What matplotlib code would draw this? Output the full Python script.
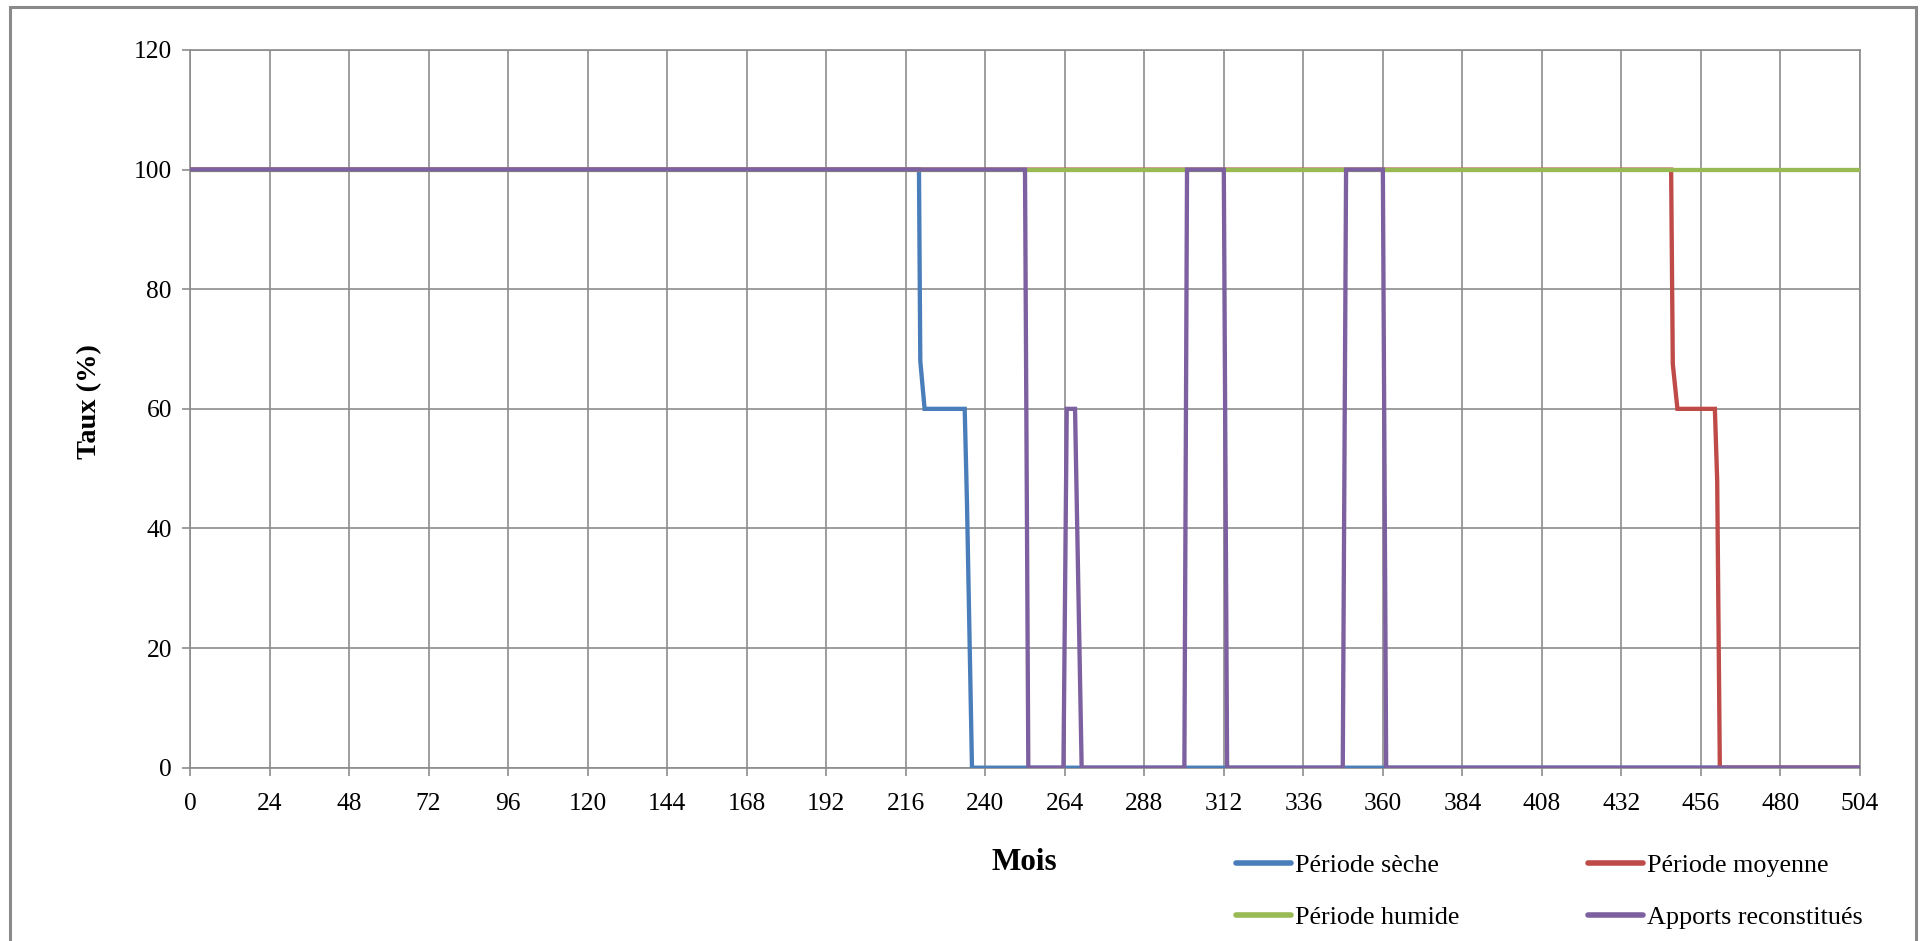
import matplotlib
matplotlib.use("Agg")
import matplotlib.pyplot as plt
from matplotlib.patches import Rectangle
from matplotlib.lines import Line2D

plt.rcParams['font.family'] = ['Liberation Serif', 'DejaVu Serif']

# Monthly supply rate (%) for each hydrological scenario
months_seche = [0, 220, 220.4, 221.7, 233.8, 234.5, 236, 504]
taux_seche = [100, 100, 68, 60, 60, 44, 0, 0]

months_moyenne = [0, 447, 447.5, 448.9, 460.2, 460.9, 461.7, 504]
taux_moyenne = [100, 100, 67.5, 60, 60, 48, 0, 0]

months_humide = [0, 504]
taux_humide = [100, 100]

months_apports = [0, 252, 253, 263.6, 264.6, 267.1, 269.1, 300.1, 300.9,
                  312, 313, 347.9, 348.9, 360, 361, 504]
taux_apports = [100, 100, 0, 0, 60, 60, 0, 0, 100,
                100, 0, 0, 100, 100, 0, 0]

series = [
    ("Période sèche", months_seche, taux_seche, "#4A7EBB"),
    ("Période moyenne", months_moyenne, taux_moyenne, "#BE4B48"),
    ("Période humide", months_humide, taux_humide, "#98B954"),
    ("Apports reconstitués", months_apports, taux_apports, "#7D60A0"),
]

x_ticks = list(range(0, 505, 24))
y_ticks = list(range(0, 121, 20))

W, H = 1920, 941
fig = plt.figure(figsize=(W / 100, H / 100), dpi=100)
ax = fig.add_axes([190 / W, 1 - 767.7 / H, (1860 - 190) / W, (767.7 - 50) / H])

grid_col = "#8C8C8C"
lines = {}
for name, xs, ys, col in series:
    lines[name], = ax.plot(xs, ys, color=col, lw=3.1, solid_joinstyle='miter',
                           label=name, zorder=3)

ax.set_xlim(0, 504)
ax.set_ylim(0, 120)
ax.set_xticks(x_ticks)
ax.set_yticks(y_ticks)
ax.grid(True, color=grid_col, lw=1.2)
ax.set_axisbelow(True)
for s in ax.spines.values():
    s.set_color(grid_col)
    s.set_linewidth(1.2)
ax.tick_params(axis='both', colors=grid_col, labelcolor='black', length=6,
               width=1.2, labelsize=18.4)
ax.tick_params(axis='x', pad=12)
ax.tick_params(axis='y', pad=7)

fig.text(90 / W, 1 - 402 / H, "Taux (%)", fontsize=20.4, fontweight='bold',
         rotation=90, ha='center', va='center')
fig.text(1024.5 / W, 1 - 862 / H, "Mois", fontsize=22.4, fontweight='bold',
         ha='center', va='center')

# Legend laid out row by row: sèche / moyenne, humide / apports
order = ["Période sèche", "Période humide", "Période moyenne", "Apports reconstitués"]
handles = [Line2D([0], [0], color=lines[n].get_color(), lw=4,
                  solid_capstyle='round') for n in order]
fig.legend(handles, order, ncol=2, loc='center left',
           bbox_to_anchor=(1236 / W, 1 - 891.5 / H), frameon=False,
           fontsize=18.8, handlelength=2.1, handletextpad=0.15,
           columnspacing=4.93, labelspacing=1.08, borderpad=0,
           borderaxespad=0)

# Chart area frame
fig.patches.append(Rectangle((10 / W, -0.05), (1916 - 10) / W, 1.05 - 7 / H,
                             transform=fig.transFigure, fill=False,
                             edgecolor="#8A8A8A", lw=2.2))

fig.savefig("out.png", dpi=100)
